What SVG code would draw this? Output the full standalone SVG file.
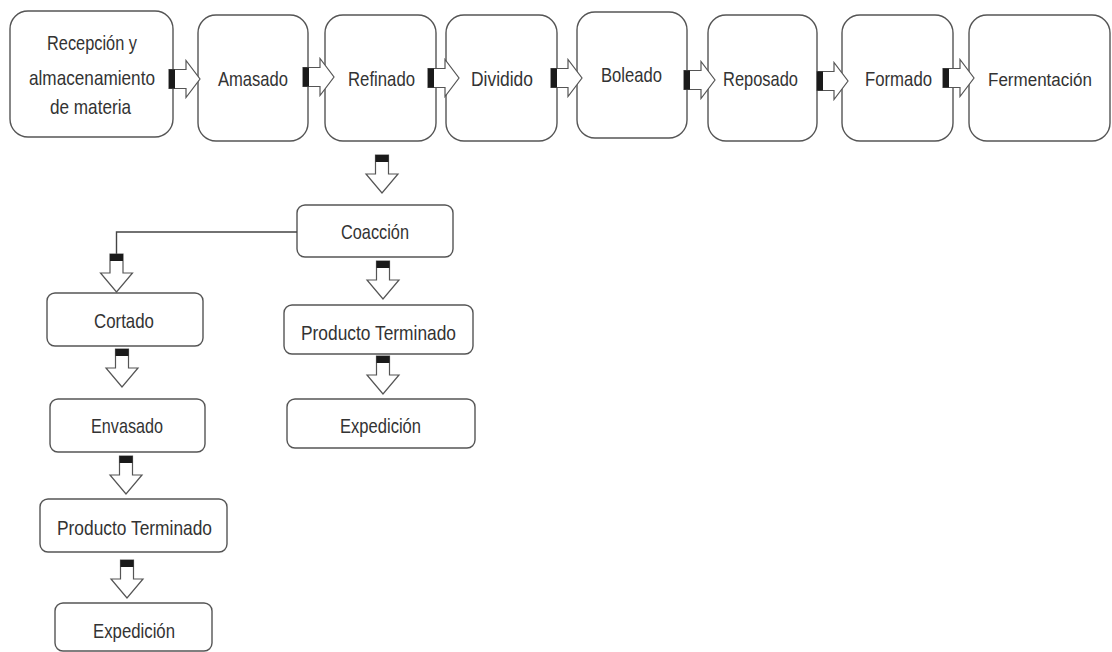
<svg xmlns="http://www.w3.org/2000/svg" width="1112" height="652" viewBox="0 0 1112 652">
<style>
.box{fill:#fff;stroke:#555;stroke-width:1.4}
.t{font-family:"Liberation Sans",Arial,sans-serif;font-size:21px;fill:#333;text-anchor:middle}
.ar{fill:#fff;stroke:#555;stroke-width:1.2;stroke-linejoin:miter}
.tail{fill:#1a1a1a}
.ln{fill:none;stroke:#444;stroke-width:1.4}
</style>
<defs>
<g id="harrow">
<path class="ar" d="M0,-9.5 H17 V-18.5 L31,0 L17,18.5 V9.5 H0 Z"/>
<rect class="tail" x="0" y="-9.5" width="6" height="19"/>
</g>
<g id="varrow">
<path class="ar" d="M-6.5,0 H6.5 V19 H16 L0,38 L-16,19 H-6.5 Z"/>
<rect class="tail" x="-6.5" y="0" width="13" height="7"/>
</g>
</defs>
<rect width="1112" height="652" fill="#fff"/>
<g id="n1"><rect class="box" x="10" y="11" width="163" height="126" rx="18"/>
<text class="t" x="92" y="50" textLength="90" lengthAdjust="spacingAndGlyphs">Recepción y</text>
<text class="t" x="92" y="85" textLength="126" lengthAdjust="spacingAndGlyphs">almacenamiento</text>
<text class="t" x="90.5" y="114" textLength="81" lengthAdjust="spacingAndGlyphs">de materia</text></g>
<g id="n2"><rect class="box" x="198" y="15" width="110" height="126" rx="18"/><text class="t" x="253" y="86" textLength="70" lengthAdjust="spacingAndGlyphs">Amasado</text></g>
<g id="n3"><rect class="box" x="325" y="15" width="111" height="126" rx="18"/><text class="t" x="381.5" y="86" textLength="67" lengthAdjust="spacingAndGlyphs">Refinado</text></g>
<g id="n4"><rect class="box" x="446" y="15" width="111" height="126" rx="18"/><text class="t" x="502" y="86" textLength="62" lengthAdjust="spacingAndGlyphs">Dividido</text></g>
<g id="n5"><rect class="box" x="577" y="12" width="110" height="126" rx="18"/><text class="t" x="631.5" y="82" textLength="61" lengthAdjust="spacingAndGlyphs">Boleado</text></g>
<g id="n6"><rect class="box" x="708" y="15" width="109" height="126" rx="18"/><text class="t" x="760.5" y="86" textLength="75" lengthAdjust="spacingAndGlyphs">Reposado</text></g>
<g id="n7"><rect class="box" x="842" y="15" width="111" height="126" rx="18"/><text class="t" x="898.5" y="86" textLength="67" lengthAdjust="spacingAndGlyphs">Formado</text></g>
<g id="n8"><rect class="box" x="969" y="15" width="141" height="126" rx="18"/><text class="t" x="1040" y="86" style="font-size:18px" textLength="104" lengthAdjust="spacingAndGlyphs">Fermentación</text></g>
<g id="n9"><rect class="box" x="297" y="205" width="156" height="52" rx="8"/><text class="t" x="375" y="239" textLength="68" lengthAdjust="spacingAndGlyphs">Coacción</text></g>
<g id="n10"><rect class="box" x="47" y="293" width="156" height="53" rx="8"/><text class="t" x="124" y="328" textLength="60" lengthAdjust="spacingAndGlyphs">Cortado</text></g>
<g id="n11"><rect class="box" x="284" y="305" width="189" height="49" rx="8"/><text class="t" x="378.5" y="340" textLength="155" lengthAdjust="spacingAndGlyphs">Producto Terminado</text></g>
<g id="n12"><rect class="box" x="287" y="399" width="188" height="49" rx="8"/><text class="t" x="380.5" y="433" textLength="81" lengthAdjust="spacingAndGlyphs">Expedición</text></g>
<g id="n13"><rect class="box" x="50" y="399" width="155" height="53" rx="8"/><text class="t" x="127" y="433" textLength="72" lengthAdjust="spacingAndGlyphs">Envasado</text></g>
<g id="n14"><rect class="box" x="40" y="499" width="187" height="53" rx="8"/><text class="t" x="134.5" y="535" textLength="155" lengthAdjust="spacingAndGlyphs">Producto Terminado</text></g>
<g id="n15"><rect class="box" x="55" y="603" width="157" height="48" rx="8"/><text class="t" x="134" y="638" textLength="82" lengthAdjust="spacingAndGlyphs">Expedición</text></g>
<g id="connectors">
<use href="#harrow" x="169" y="79"/>
<use href="#harrow" x="303" y="77"/>
<use href="#harrow" x="428" y="78"/>
<use href="#harrow" x="551" y="78"/>
<use href="#harrow" x="684" y="80"/>
<use href="#harrow" x="817" y="81"/>
<use href="#harrow" x="943" y="78"/>
<use href="#varrow" x="382" y="155"/>
<path class="ln" d="M297,232 H116.5 V254"/>
<use href="#varrow" x="116.5" y="254"/>
<use href="#varrow" x="383" y="261"/>
<use href="#varrow" x="122" y="349"/>
<use href="#varrow" x="383" y="356"/>
<use href="#varrow" x="126" y="456"/>
<use href="#varrow" x="127" y="560"/>
</g>
</svg>
